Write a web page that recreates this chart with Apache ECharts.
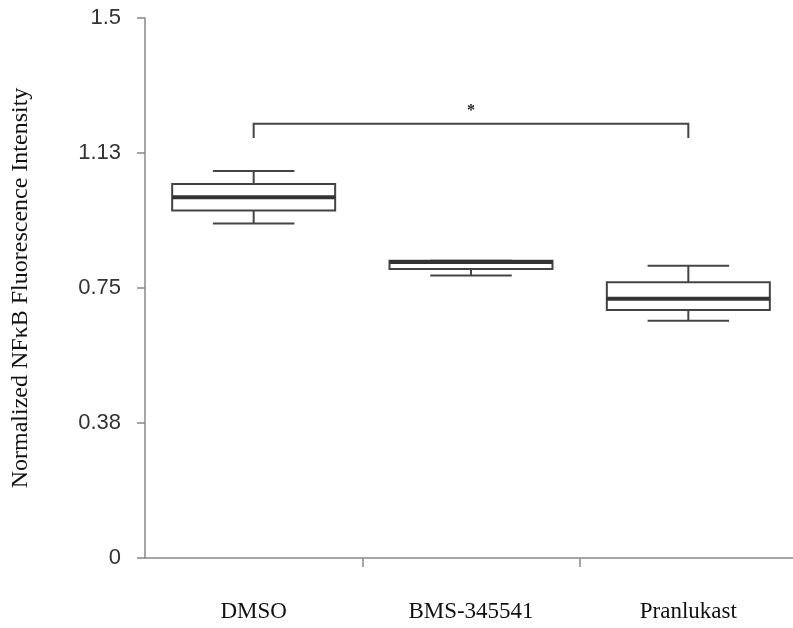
<!DOCTYPE html>
<html><head><meta charset="utf-8">
<script src="https://cdn.jsdelivr.net/npm/echarts@6/dist/echarts.min.js"></script>
<style>html,body{margin:0;padding:0;background:#fff}#c{width:793px;height:628px}</style>
</head><body><div id="c"></div>
<script>
const categories = ['DMSO', 'BMS-345541', 'Pranlukast'];
const whiskerLow  = [0.929, 0.785, 0.659];
const q1          = [0.965, 0.803, 0.689];
const median      = [1.002, 0.822, 0.720];
const q3          = [1.039, 0.826, 0.766];
const whiskerHigh = [1.075, 0.826, 0.812];
const yTickValues = [0, 0.375, 0.75, 1.125, 1.5];
const yTickLabels = ['0', '0.38', '0.75', '1.13', '1.5'];
const sigFrom = 0, sigTo = 2, sigLabel = '*';
const sigTop = 1.206, sigEnd = 1.167;

const boxData = categories.map((c, i) => [i, whiskerLow[i], q1[i], median[i], q3[i], whiskerHigh[i]]);

const edge = '#444';
function renderBox(params, api) {
  const i = api.value(0);
  const bw = api.size([1, 0])[0];
  const half = bw * 0.375, capHalf = bw * 0.1875;
  const pLo = api.coord([i, api.value(1)]);
  const pQ1 = api.coord([i, api.value(2)]);
  const pMed = api.coord([i, api.value(3)]);
  const pQ3 = api.coord([i, api.value(4)]);
  const pHi = api.coord([i, api.value(5)]);
  const cx = pMed[0];
  const ls = {stroke: edge, lineWidth: 2};
  const children = [
    {type: 'line', shape: {x1: cx, y1: pHi[1], x2: cx, y2: pQ3[1]}, style: ls},
    {type: 'line', shape: {x1: cx - capHalf, y1: pHi[1], x2: cx + capHalf, y2: pHi[1]}, style: ls},
    {type: 'line', shape: {x1: cx, y1: pLo[1], x2: cx, y2: pQ1[1]}, style: ls},
    {type: 'line', shape: {x1: cx - capHalf, y1: pLo[1], x2: cx + capHalf, y2: pLo[1]}, style: ls},
    {type: 'rect', shape: {x: cx - half, y: pQ3[1], width: half * 2, height: pQ1[1] - pQ3[1]},
      style: {fill: '#fff', stroke: edge, lineWidth: 2}},
    {type: 'line', shape: {x1: cx - half, y1: pMed[1], x2: cx + half, y2: pMed[1]},
      style: {stroke: '#333', lineWidth: 4}}
  ];
  return {type: 'group', children};
}

function renderSig(params, api) {
  const a = api.coord([api.value(0), api.value(2)]);
  const b = api.coord([api.value(1), api.value(2)]);
  const ae = api.coord([api.value(0), api.value(3)]);
  const ls = {stroke: '#444', lineWidth: 2, fill: null};
  return {type: 'group', children: [
    {type: 'polyline', shape: {points: [[a[0], ae[1]], [a[0], a[1]], [b[0], b[1]], [b[0], ae[1]]]}, style: ls},
    {type: 'text', style: {text: sigLabel, x: (a[0] + b[0]) / 2, y: a[1] - 13, align: 'center', verticalAlign: 'middle',
      fill: '#222', font: 'bold 16px "Liberation Serif", serif'}}
  ]};
}

const chart = echarts.init(document.getElementById('c'), null, {renderer: 'canvas'});
chart.setOption({
  animation: false,
  backgroundColor: '#fff',
  grid: {left: 145, width: 652, top: 18, bottom: 70, containLabel: false, outerBoundsMode: 'none'},
  xAxis: {
    type: 'category', data: categories, boundaryGap: true,
    axisLine: {lineStyle: {color: '#888', width: 1.5}},
    axisTick: {show: true, length: 9, lineStyle: {color: '#888', width: 1.5}, interval: (idx) => idx !== 0},
    axisLabel: {margin: 42, color: '#111', fontFamily: '"Liberation Serif", serif', fontSize: 23},
    splitLine: {show: false}
  },
  yAxis: {
    type: 'value', min: 0, max: 1.5, interval: 0.375,
    name: 'Normalized NFκB Fluorescence Intensity', nameLocation: 'middle', nameGap: 112,
    nameTextStyle: {color: '#111', fontFamily: '"Liberation Serif", serif', fontSize: 24},
    axisLine: {show: true, lineStyle: {color: '#888', width: 1.5}},
    axisTick: {show: true, length: 8, lineStyle: {color: '#888', width: 1.5}},
    axisLabel: {margin: 24, color: '#333', fontFamily: '"Liberation Sans", Arial, sans-serif', fontSize: 22,
      formatter: (v) => { const k = yTickValues.findIndex(t => Math.abs(t - v) < 1e-9); return k >= 0 ? yTickLabels[k] : ''; }},
    splitLine: {show: false}
  },
  series: [
    {type: 'custom', renderItem: renderBox, data: boxData, encode: {x: 0, y: [1, 2, 3, 4, 5]}, clip: false},
    {type: 'custom', renderItem: renderSig, data: [[sigFrom, sigTo, sigTop, sigEnd]], encode: {x: [0, 1], y: [2, 3]}, clip: false}
  ]
});
</script></body></html>
